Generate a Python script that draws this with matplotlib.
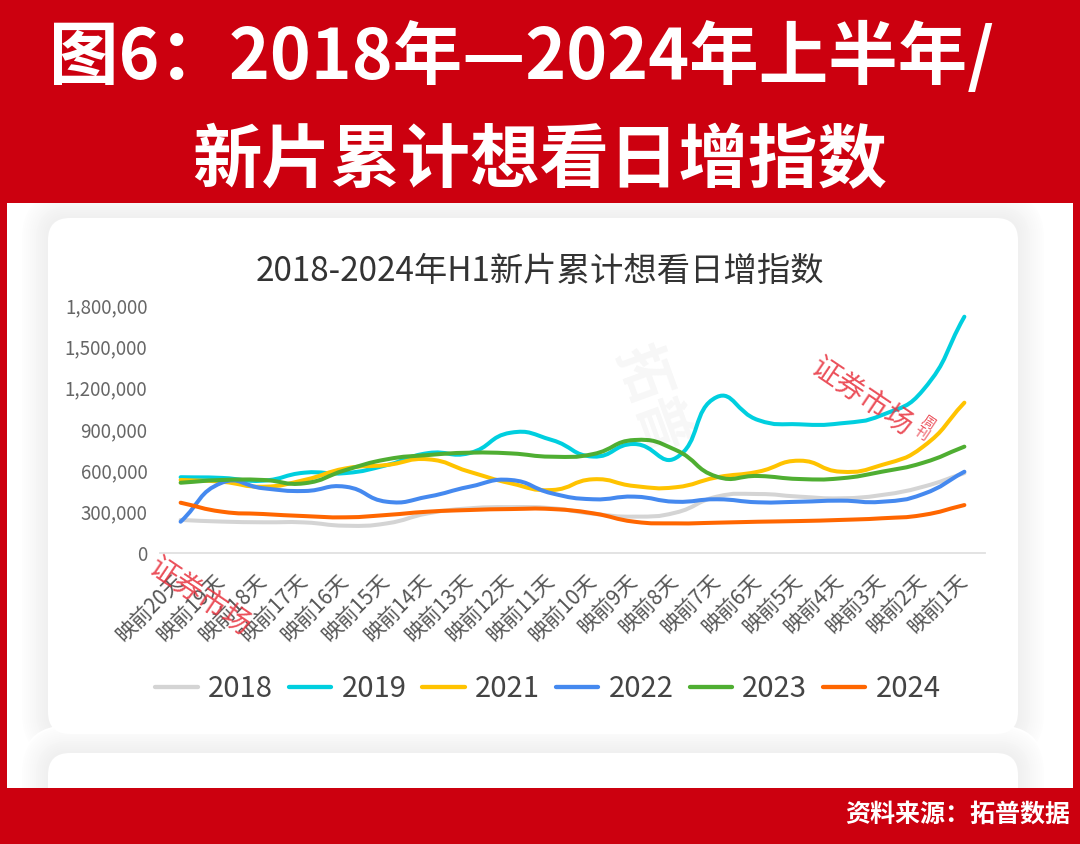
import matplotlib
matplotlib.use("Agg")
import matplotlib.pyplot as plt
import numpy as np
from matplotlib.patches import FancyBboxPatch, Rectangle, PathPatch
from matplotlib.path import Path
from matplotlib.ticker import FuncFormatter

plt.rcParams['font.family'] = ['Noto Sans CJK SC', 'DejaVu Sans']

# ---------------- data ----------------
categories = ["映前20天", "映前19天", "映前18天", "映前17天", "映前16天", "映前15天",
              "映前14天", "映前13天", "映前12天", "映前11天", "映前10天", "映前9天",
              "映前8天", "映前7天", "映前6天", "映前5天", "映前4天", "映前3天",
              "映前2天", "映前1天"]
s2018 = [240000, 228000, 223000, 222000, 198000, 215000, 288000, 324000, 333000, 325000,
         285000, 264000, 293000, 409000, 428000, 409000, 397000, 421000, 481000, 580000]
s2019 = [550000, 545000, 525000, 583000, 580000, 638000, 725000, 725000, 873000, 820000,
         700000, 791000, 689000, 1132000, 965000, 934000, 941000, 1001000, 1183000, 1715000]
s2021 = [530000, 517000, 481000, 530000, 614000, 639000, 680000, 590000, 506000, 457000,
         535000, 486000, 477000, 549000, 590000, 670000, 590000, 639000, 772000, 1091000]
s2022 = [227000, 510000, 470000, 450000, 481000, 372000, 409000, 481000, 530000, 433000,
         390000, 409000, 372000, 390000, 368000, 372000, 380000, 372000, 428000, 590000]
s2023 = [510000, 530000, 530000, 506000, 602000, 680000, 711000, 728000, 723000, 699000,
         718000, 820000, 748000, 554000, 559000, 537000, 542000, 590000, 655000, 772000]
s2024 = [365000, 300000, 283000, 268000, 259000, 276000, 300000, 312000, 319000, 319000,
         288000, 227000, 215000, 220000, 227000, 232000, 240000, 252000, 276000, 348000]
series_names = ["2018", "2019", "2021", "2022", "2023", "2024"]
series_values = [s2018, s2019, s2021, s2022, s2023, s2024]
series_colors = ["#d4d4d4", "#00cfdf", "#ffc300", "#4589ef", "#4fae32", "#ff6600"]
yticks = [0, 300000, 600000, 900000, 1200000, 1500000, 1800000]

W, H = 1080, 844
fig = plt.figure(figsize=(W / 100, H / 100), dpi=100)
RED = "#cc000f"
fig.patch.set_facecolor(RED)

# background axes in pixel coords
bg = fig.add_axes([0, 0, 1, 1])
bg.set_xlim(0, W)
bg.set_ylim(H, 0)
bg.axis("off")

bg.add_patch(Rectangle((7, 203), 1066, 585, facecolor="white", edgecolor="none", zorder=1))

def card(x0, y0, x1, y1, r=22):
    # soft shadow
    n = 14
    for k in range(n, 0, -1):
        e = k * 2.0
        lvl = 239 + (255 - 239) * (k / n)
        c = "#%02x%02x%02x" % (int(lvl), int(lvl), int(lvl))
        bg.add_patch(FancyBboxPatch((x0 - e, y0 - e), (x1 - x0) + 2 * e, (y1 - y0) + 2 * e,
                                    boxstyle="round,pad=0,rounding_size=%g" % (r + e),
                                    facecolor=c, edgecolor="none", zorder=2))

card(48, 218, 1018, 734)
card(48, 753, 1018, 900)
for (x0, y0, x1, y1) in [(48, 218, 1018, 734), (48, 753, 1018, 900)]:
    bg.add_patch(FancyBboxPatch((x0, y0), x1 - x0, y1 - y0,
                                boxstyle="round,pad=0,rounding_size=22",
                                facecolor="white", edgecolor="none", zorder=3))
bg.add_patch(Rectangle((0, 203), 7, 641, facecolor=RED, edgecolor="none", zorder=4))
bg.add_patch(Rectangle((1073, 203), 7, 641, facecolor=RED, edgecolor="none", zorder=4))
bg.add_patch(Rectangle((0, 788), W, 56, facecolor=RED, edgecolor="none", zorder=4))
bg.add_patch(Rectangle((0, 0), W, 203, facecolor=RED, edgecolor="none", zorder=4))

def fx(x):
    return x / W

def fy(y):
    return 1 - y / H

# titles
fig.text(fx(522), fy(58), "图6：2018年—2024年上半年/", color="white", fontsize=50,
         fontweight="bold", ha="center", va="center")
fig.text(fx(540), fy(162), "新片累计想看日增指数", color="white", fontsize=50,
         fontweight="bold", ha="center", va="center")
fig.text(fx(1070), fy(815), "资料来源：拓普数据", color="white", fontsize=18,
         fontweight="bold", ha="right", va="center")
fig.text(fx(540), fy(271), "2018-2024年H1新片累计想看日增指数", color="#333333",
         fontsize=24, ha="center", va="center")

# ---------------- chart ----------------
ax = fig.add_axes([160 / W, 1 - 553 / H, 825 / W, 248 / H])
ax.patch.set_alpha(0)
x = np.arange(len(categories))
ax.set_xlim(-0.5, len(categories) - 0.5)
ax.set_ylim(0, 1800000)
for s in ["top", "right", "left"]:
    ax.spines[s].set_visible(False)
ax.spines["bottom"].set_color("#e0e0e0")
ax.spines["bottom"].set_linewidth(1.3)
ax.set_yticks(yticks)
ax.yaxis.set_major_formatter(FuncFormatter(lambda v, p: f"{int(v):,}"))
ax.tick_params(axis="y", length=0, pad=9, labelsize=13.5, labelcolor="#666666")
ax.set_xticks(x)
ax.set_xticklabels(categories)
ax.tick_params(axis="x", length=0, pad=18, labelsize=15, labelcolor="#555555")
plt.setp(ax.get_xticklabels(), rotation=45, ha="right", va="center", rotation_mode="anchor")

fig.canvas.draw()

def smooth_patch(xs, ys, color, smooth=0.5, lw=2.9, z=3):
    pts = ax.transData.transform(np.column_stack([xs, ys]))
    n = len(pts)
    cps_in = [None] * n
    cps_out = [None] * n
    for i in range(n):
        p = pts[i]
        prev = pts[i - 1] if i > 0 else p
        nxt = pts[i + 1] if i < n - 1 else p
        v = nxt - prev
        lp = np.hypot(*(p - prev))
        ln = np.hypot(*(nxt - p))
        r = ln / (ln + lp) if (ln + lp) > 0 else 0.5
        cps_in[i] = p - v * smooth * (1 - r)
        cps_out[i] = p + v * smooth * r
    verts = [pts[0]]
    codes = [Path.MOVETO]
    for i in range(n - 1):
        verts += [cps_out[i], cps_in[i + 1], pts[i + 1]]
        codes += [Path.CURVE4] * 3
    verts = ax.transData.inverted().transform(np.array(verts))
    patch = PathPatch(Path(verts, codes), facecolor="none", edgecolor=color, lw=lw,
                      capstyle="round", joinstyle="round", zorder=z)
    ax.add_patch(patch)

for i, (name, vals, col) in enumerate(zip(series_names, series_values, series_colors)):
    smooth_patch(x, vals, col, z=3 + i)
    ax.plot([], [], color=col, lw=3.1, label=name, solid_capstyle="round")

leg = fig.legend(loc="center", bbox_to_anchor=(fx(548), fy(689)), ncol=6, frameon=False,
                 fontsize=21, handlelength=1.45, handletextpad=0.35, columnspacing=0.55,
                 labelcolor="#444444")

# watermark stamps
for (cx, cy) in [(862, 397), (200, 597)]:
    fig.text(fx(cx), fy(cy), "证券市场", color="#e8333f", alpha=0.85, fontsize=21,
             rotation=-34, ha="center", va="center", zorder=20)
fig.text(fx(925), fy(428), "周\n刊", color="#e8333f", alpha=0.85, fontsize=10,
         rotation=-34, ha="center", va="center", linespacing=0.9, zorder=20)
fig.text(fx(650), fy(400), "拓普", color="#000000", alpha=0.035, fontsize=40,
         fontweight="bold", rotation=-70, ha="center", va="center", zorder=20)

fig.savefig("out.png", dpi=100, facecolor=fig.get_facecolor())
